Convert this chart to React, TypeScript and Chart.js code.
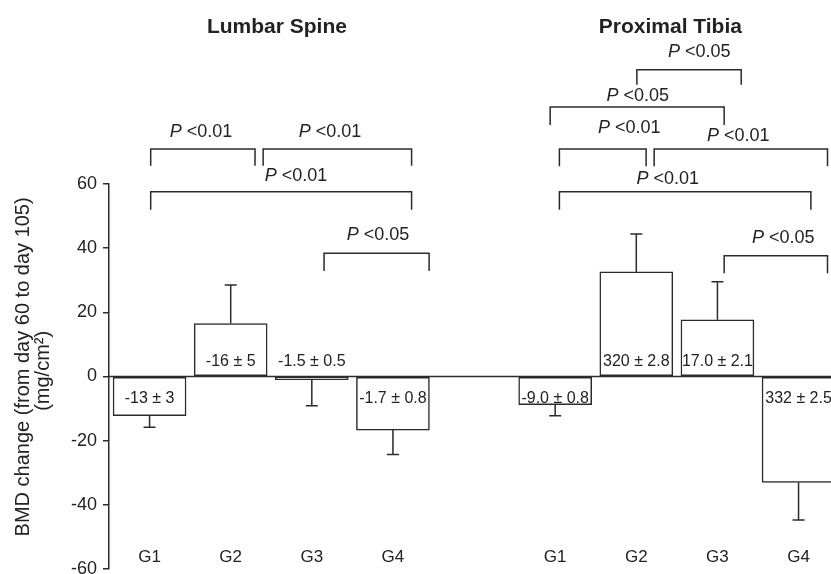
import React, { useEffect, useRef } from 'react';
import { Chart, registerables } from 'chart.js';

Chart.register(...registerables);

const groupTitles = ['Lumbar Spine', 'Proximal Tibia'];
const groupTitleX = [2.57, 7.42];
const categories = ['G1', 'G2', 'G3', 'G4'];
const lumbarPositions = [1, 2, 3, 4];
const tibiaPositions = [6, 7, 8, 9];
const lumbarMeans = [-12.2, 16.5, -1.0, -16.7];
const lumbarErrors = [3.6, 12.0, 8.1, 7.6];
const tibiaMeans = [-8.8, 32.6, 17.7, -33.0];
const tibiaErrors = [3.4, 11.8, 11.8, 11.7];
const lumbarLabels = ['-13 ± 3', '-16 ± 5', '-1.5 ± 0.5', '-1.7 ± 0.8'];
const tibiaLabels = ['-9.0 ± 0.8', '320 ± 2.8', '17.0 ± 2.1', '332 ± 2.5'];
const lumbarLabelSide = [-1, 1, 1, -1];
const tibiaLabelSide = [-1, 1, 1, -1];
const yTitleLines = ['BMD change (from day 60 to day 105)', '(mg/cm²)'];

// significance brackets: from, to (x position), level and leg end (y value), text, text x, text y
const bracketFrom = [1.014, 2.4, 1.014, 3.151, 7.007, 5.938, 6.052, 7.22, 6.052, 8.083];
const bracketTo = [2.3, 4.23, 4.23, 4.446, 8.293, 8.083, 7.121, 9.357, 9.152, 9.357];
const bracketLevel = [70.9, 70.9, 57.6, 38.4, 95.6, 84.0, 70.9, 70.9, 57.6, 37.6];
const bracketLeg = [65.7, 65.7, 52.0, 32.9, 90.9, 78.4, 65.5, 65.5, 52.0, 32.2];
const bracketText = [' <0.01', ' <0.01', ' <0.01', ' <0.05', ' <0.05', ' <0.05', ' <0.01', ' <0.01', ' <0.01', ' <0.05'];
const bracketTextX = [1.634, 3.225, 2.806, 3.817, 7.775, 7.017, 6.912, 8.256, 7.387, 8.811];
const bracketTextY = [76.25, 76.25, 62.6, 44.1, 101.2, 87.4, 77.4, 74.9, 61.6, 43.3];

const FAMILY = '"Liberation Sans", Arial, Helvetica, sans-serif';
const INK = '#2b2b2b';
const f = (size: number, weight = 'normal', style = 'normal') => `${style} ${weight} ${size}px ${FAMILY}`;

const overlayPlugin = {
  id: 'overlay',
  afterDatasetsDraw(chart: any) {
    const { ctx, chartArea } = chart;
    const xs = chart.scales.x;
    const ys = chart.scales.y;
    ctx.save();
    const y0 = ys.getPixelForValue(0);
    ctx.strokeStyle = INK;
    ctx.lineWidth = 1.5;
    ctx.beginPath();
    ctx.moveTo(chartArea.left, y0);
    ctx.lineTo(chartArea.right, y0);
    ctx.stroke();

    const groups = [
      { pos: lumbarPositions, means: lumbarMeans, errs: lumbarErrors, labels: lumbarLabels, side: lumbarLabelSide },
      { pos: tibiaPositions, means: tibiaMeans, errs: tibiaErrors, labels: tibiaLabels, side: tibiaLabelSide },
    ];
    groups.forEach((g) => {
      g.pos.forEach((p, i) => {
        const x = xs.getPixelForValue(p);
        const m = g.means[i];
        const dir = m >= 0 ? 1 : -1;
        const ya = ys.getPixelForValue(m);
        const yb = ys.getPixelForValue(m + dir * g.errs[i]);
        ctx.strokeStyle = INK;
        ctx.lineWidth = 1.5;
        ctx.beginPath();
        ctx.moveTo(x, ya);
        ctx.lineTo(x, yb);
        ctx.moveTo(x - 6, yb);
        ctx.lineTo(x + 6, yb);
        ctx.stroke();
        ctx.fillStyle = '#222';
        ctx.font = f(16);
        ctx.textAlign = 'center';
        ctx.textBaseline = 'middle';
        const ly = g.side[i] > 0 ? y0 - 15 : y0 + 22;
        ctx.fillText(g.labels[i], x, ly);
      });
    });
    ctx.restore();
  },
  afterDraw(chart: any) {
    const { ctx } = chart;
    const xs = chart.scales.x;
    const ys = chart.scales.y;
    ctx.save();
    bracketFrom.forEach((from, i) => {
      const x1 = xs.getPixelForValue(from);
      const x2 = xs.getPixelForValue(bracketTo[i]);
      const yl = ys.getPixelForValue(bracketLevel[i]);
      const yg = ys.getPixelForValue(bracketLeg[i]);
      ctx.strokeStyle = INK;
      ctx.lineWidth = 1.5;
      ctx.beginPath();
      ctx.moveTo(x1, yg);
      ctx.lineTo(x1, yl);
      ctx.lineTo(x2, yl);
      ctx.lineTo(x2, yg);
      ctx.stroke();
      const cx = xs.getPixelForValue(bracketTextX[i]);
      const cy = ys.getPixelForValue(bracketTextY[i]);
      ctx.font = f(18, 'normal', 'italic');
      const wP = ctx.measureText('P').width;
      ctx.font = f(18);
      const wR = ctx.measureText(bracketText[i]).width;
      const start = cx - (wP + wR) / 2;
      ctx.fillStyle = '#222';
      ctx.textAlign = 'left';
      ctx.textBaseline = 'middle';
      ctx.font = f(18, 'normal', 'italic');
      ctx.fillText('P', start, cy);
      ctx.font = f(18);
      ctx.fillText(bracketText[i], start + wP, cy);
    });
    ctx.fillStyle = '#222';
    ctx.font = f(21, 'bold');
    ctx.textAlign = 'center';
    ctx.textBaseline = 'middle';
    groupTitles.forEach((t, i) => {
      ctx.fillText(t, xs.getPixelForValue(groupTitleX[i]), ys.getPixelForValue(109));
    });
    ctx.font = f(17);
    [lumbarPositions, tibiaPositions].forEach((ps) => {
      ps.forEach((p, i) => {
        ctx.fillText(categories[i], xs.getPixelForValue(p), ys.getPixelForValue(-56.5));
      });
    });
    ctx.font = f(20);
    ctx.fillStyle = '#222';
    const ym = ys.getPixelForValue(3);
    yTitleLines.forEach((line, i) => {
      ctx.save();
      ctx.translate(23 + i * 20, ym + i * 4);
      ctx.rotate(-Math.PI / 2);
      ctx.fillText(line, 0, 0);
      ctx.restore();
    });
    ctx.restore();
  },
};

export default function App() {
  const ref = useRef<HTMLCanvasElement | null>(null);
  useEffect(() => {
    if (!ref.current) return;
    const data = [
      ...lumbarPositions.map((p, i) => ({ x: p, y: lumbarMeans[i] })),
      ...tibiaPositions.map((p, i) => ({ x: p, y: tibiaMeans[i] })),
    ];
    const chart = new Chart(ref.current, {
      type: 'bar',
      data: {
        datasets: [
          {
            data,
            backgroundColor: '#ffffff',
            borderColor: INK,
            borderWidth: 1.5,
            borderSkipped: false,
            barThickness: 73,
          } as any,
        ],
      },
      options: {
        animation: false,
        responsive: false,
        layout: { padding: { top: 184, bottom: 5, left: 0, right: 0 }, autoPadding: false } as any,
        plugins: { legend: { display: false }, tooltip: { enabled: false } },
        scales: {
          x: { type: 'linear', min: 0.5, max: 9.4, display: false, offset: false },
          y: {
            min: -60,
            max: 60,
            afterFit: (s: any) => {
              s.width = 109;
              s.paddingTop = 0;
              s.paddingBottom = 0;
            },
            ticks: { stepSize: 20, font: { size: 18, family: FAMILY }, color: '#222', padding: 6 },
            grid: { color: 'rgba(0,0,0,0)', tickColor: INK, tickLength: 6, lineWidth: 1.5, drawOnChartArea: false },
            border: { display: true, color: INK, width: 1.5 },
            title: { display: false },
          },
        },
      },
      plugins: [overlayPlugin],
    });
    return () => chart.destroy();
  }, []);
  return (
    <div style={{ position: 'absolute', left: 0, top: 0, width: 831, height: 574, background: '#fff' }}>
      <canvas ref={ref} width={831} height={574} />
    </div>
  );
}
